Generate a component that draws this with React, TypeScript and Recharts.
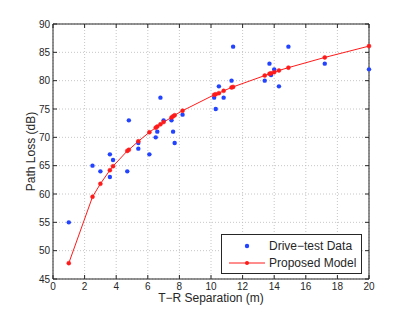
import React from "react";
import {
  ComposedChart,
  Scatter,
  Line,
  XAxis,
  YAxis,
  CartesianGrid,
  ReferenceLine,
} from "recharts";

const driveX = [1, 2.5, 3, 3.6, 3.6, 3.8, 4.7, 4.8, 5.4, 5.4, 6.1, 6.5, 6.6, 6.8, 7, 7.5, 7.6, 7.7, 8.2, 10.2, 10.3, 10.5, 10.8, 11.3, 11.4, 13.4, 13.7, 13.8, 14, 14.3, 14.9, 17.2, 20];
const driveY = [55, 65, 64, 67, 63, 66, 64, 73, 69, 68, 67, 70, 71, 77, 73, 73, 71, 69, 74, 77, 75, 79, 77, 80, 86, 80, 83, 81, 82, 79, 86, 83, 82];

const modelX = [1, 2.5, 3, 3.6, 3.8, 4.7, 4.8, 5.4, 6.1, 6.5, 6.6, 6.8, 7, 7.5, 7.6, 7.7, 8.2, 10.2, 10.3, 10.5, 10.8, 11.3, 11.4, 13.4, 13.7, 13.8, 14, 14.3, 14.9, 17.2, 20];
const modelY = [47.8, 59.5, 61.8, 64.2, 64.9, 67.6, 67.8, 69.3, 70.9, 71.7, 71.9, 72.3, 72.7, 73.5, 73.7, 73.9, 74.7, 77.5, 77.6, 77.8, 78.2, 78.8, 78.9, 80.9, 81.2, 81.3, 81.5, 81.8, 82.3, 84.1, 86.1];

const xTicks = [0, 2, 4, 6, 8, 10, 12, 14, 16, 18, 20];
const yTicks = [45, 50, 55, 60, 65, 70, 75, 80, 85, 90];

const driveData = driveX.map((x, i) => ({ x, y: driveY[i] }));
const modelData = modelX.map((x, i) => ({ x, y: modelY[i] }));

const X_MIN = 0, X_MAX = 20, Y_MIN = 45, Y_MAX = 90;

const BLUE = "#2243ff";
const RED = "#ff1a1a";
const AXIS = "#262626";
const FONT = "'Liberation Sans', Arial, sans-serif";

const BlueDot = (props: any) => {
  const { cx, cy } = props;
  if (cx == null || cy == null) return null;
  return <circle cx={cx} cy={cy} r={2.2} fill={BLUE} />;
};

export default function App() {
  const tickLenY = 0.7; // data units (~4px)
  const tickLenX = 0.25; // data units (~4px)
  return (
    <div style={{ position: "absolute", left: 0, top: 0, width: 407, height: 314, background: "#fff" }}>
      <ComposedChart
        width={407}
        height={314}
        margin={{ top: 24, right: 38, left: 0, bottom: 0 }}
        style={{ fontFamily: FONT }}
      >
        <CartesianGrid stroke="#b8b8b8" strokeDasharray="1 2" strokeWidth={0.8} />
        <XAxis
          type="number"
          dataKey="x"
          domain={[X_MIN, X_MAX]}
          ticks={xTicks}
          interval={0}
          height={35}
          stroke={AXIS}
          tickSize={-4}
          tickMargin={8}
          tick={{ fill: AXIS, fontSize: 10, fontFamily: FONT }}
          label={{ value: "T\u2212R Separation (m)", position: "insideBottom", offset: 12, fill: AXIS, fontSize: 12, fontFamily: FONT }}
        />
        <YAxis
          type="number"
          dataKey="y"
          domain={[Y_MIN, Y_MAX]}
          ticks={yTicks}
          interval={0}
          width={53}
          stroke={AXIS}
          tickSize={-4}
          tickMargin={7}
          tick={{ fill: AXIS, fontSize: 10, fontFamily: FONT }}
          label={{ value: "Path Loss (dB)", angle: -90, position: "insideLeft", offset: 31, fill: AXIS, fontSize: 12, fontFamily: FONT, style: { textAnchor: "middle" } }}
        />
        <ReferenceLine y={Y_MAX} stroke={AXIS} strokeWidth={1} />
        <ReferenceLine x={X_MAX} stroke={AXIS} strokeWidth={1} />
        {xTicks.map((t) => (
          <ReferenceLine
            key={"tt" + t}
            segment={[{ x: t, y: Y_MAX }, { x: t, y: Y_MAX - tickLenY }]}
            stroke={AXIS}
            strokeWidth={1}
          />
        ))}
        {yTicks.map((t) => (
          <ReferenceLine
            key={"rt" + t}
            segment={[{ x: X_MAX, y: t }, { x: X_MAX - tickLenX, y: t }]}
            stroke={AXIS}
            strokeWidth={1}
          />
        ))}
        <Scatter
          data={driveData}
          dataKey="y"
          fill={BLUE}
          shape={BlueDot}
          isAnimationActive={false}
        />
        <Line
          data={modelData}
          dataKey="y"
          type="linear"
          stroke={RED}
          strokeWidth={1}
          dot={{ r: 2, fill: RED, stroke: RED, strokeWidth: 0.5 }}
          isAnimationActive={false}
        />
      </ComposedChart>
      <svg
        width={141}
        height={40}
        style={{ position: "absolute", left: 220.5, top: 233.5, overflow: "visible" }}
      >
        <rect x={0.5} y={0.5} width={140} height={39} fill="#fff" stroke={AXIS} strokeWidth={1} />
        <circle cx={26} cy={12} r={2.2} fill={BLUE} />
        <text x={48} y={16} fontSize={12} fontFamily={FONT} fill={AXIS}>Drive{"\u2212"}test Data</text>
        <line x1={8} y1={29} x2={44} y2={29} stroke={RED} strokeWidth={1} />
        <circle cx={26} cy={29} r={2} fill={RED} />
        <text x={48} y={33} fontSize={12} fontFamily={FONT} fill={AXIS}>Proposed Model</text>
      </svg>
    </div>
  );
}
